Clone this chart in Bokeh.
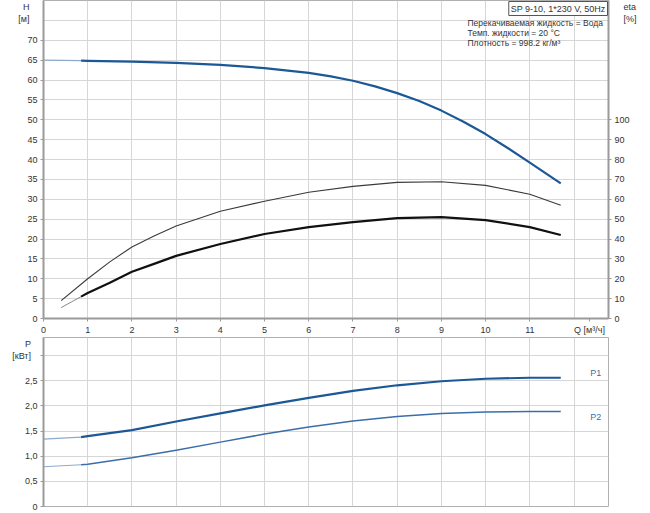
from bokeh.plotting import figure
from bokeh.layouts import column
from bokeh.models import Range1d, LinearAxis, FixedTicker, Label, CustomJSTickFormatter
from bokeh.embed import file_html
from bokeh.resources import INLINE

# ---- data ----
q_start = [0.0, 0.85]
h_start = [65.0, 64.85]
q_h = [0.85, 1, 2, 3, 4, 5, 6, 6.5, 7, 7.5, 8, 8.5, 9, 9.5, 10, 10.5, 11, 11.7]
h_vals = [64.85, 64.8, 64.6, 64.3, 63.8, 63.0, 61.8, 60.9, 59.8, 58.4, 56.7, 54.7, 52.3, 49.5, 46.4, 42.9, 39.2, 34.0]

q_eta_tot = [0.4, 1, 1.5, 2, 2.5, 3, 4, 5, 6, 7, 8, 9, 10, 11, 11.7]
eta_tot = [9.0, 20.0, 28.5, 36.0, 41.5, 46.5, 54.0, 59.0, 63.5, 66.5, 68.5, 68.8, 67.0, 62.5, 57.0]

q_eta_start = [0.4, 0.85]
eta_start = [5.5, 11.0]
q_eta = [0.85, 1, 1.5, 2, 2.5, 3, 4, 5, 6, 7, 8, 9, 10, 11, 11.7]
eta_vals = [11.0, 12.8, 18.0, 23.5, 27.5, 31.5, 37.5, 42.5, 46.0, 48.5, 50.5, 51.0, 49.5, 46.0, 42.0]

q_p_start = [0.0, 0.85]
p1_start = [1.34, 1.38]
p2_start = [0.79, 0.83]
q_p = [0.85, 1, 2, 3, 4, 5, 6, 7, 8, 9, 10, 11, 11.7]
p1_vals = [1.38, 1.40, 1.52, 1.69, 1.85, 2.01, 2.16, 2.30, 2.41, 2.49, 2.54, 2.56, 2.56]
p2_vals = [0.83, 0.84, 0.97, 1.12, 1.28, 1.44, 1.58, 1.70, 1.79, 1.85, 1.88, 1.89, 1.89]

q_ticks = list(range(0, 12)) + [12.35]
q_grid = list(range(0, 13))
h_ticks = list(range(0, 75, 5))
h_grid = list(range(0, 85, 5))
eta_ticks = list(range(0, 110, 10))
p_ticks = [0, 0.5, 1.0, 1.5, 2.0, 2.5, 3.0]

title_text = "SP 9-10, 1*230 V, 50Hz"
info_lines = ["Перекачиваемая жидкость = Вода", "Темп. жидкости = 20 °C", "Плотность = 998.2 кг/м³"]
q_label = "Q [м³/ч]"
h_label = "H\n[м]"
eta_label = "eta\n[%]"
p_label = "P\n[кВт]"

FONT = "Liberation Sans"
TXT = "#333333"
AXC = "#9a9a9a"
GRIDC = "#d6d6d6"
BLUE = "#1d5896"
BLUE2 = "#3b6ea8"
LIGHT = "#8eaacb"

XMAX = 12.78


def style_axis(ax, label=None, standoff=0):
    ax.axis_line_color = AXC
    ax.axis_line_width = 2
    ax.major_tick_line_color = AXC
    ax.major_tick_out = 3
    ax.major_tick_in = 0
    ax.minor_tick_line_color = None
    ax.major_label_text_font = FONT
    ax.major_label_text_font_size = "9px"
    ax.major_label_text_color = TXT
    ax.major_label_standoff = 3
    if label is not None:
        # leading blank lines push the two-line label below the frame top
        ax.axis_label = "\n\n" + label
        ax.axis_label_orientation = "horizontal"
        ax.axis_label_align = "end"
        ax.axis_label_standoff = standoff
        ax.axis_label_text_font = FONT
        ax.axis_label_text_font_size = "9px"
        ax.axis_label_text_font_style = "normal"
        ax.axis_label_text_color = TXT
        ax.axis_label_text_align = "center"


def lab(p, x, y, text, align="center", baseline="middle", color=TXT, size="9px"):
    l = Label(x=x, y=y, text=text, text_align=align, text_baseline=baseline,
              text_color=color, text_font=FONT, text_font_size=size)
    p.add_layout(l)
    return l


# ---------------- top figure ----------------
p = figure(width=648, height=337, x_range=Range1d(0, XMAX), y_range=Range1d(0, 80),
           output_backend="svg", toolbar_location=None,
           min_border_left=43, min_border_right=40, min_border_top=0, min_border_bottom=0)
p.extra_y_ranges = {"eta": Range1d(0, 160)}
p.outline_line_color = "#b0b0b0"

p.xaxis.ticker = FixedTicker(ticks=q_ticks)
p.xaxis.formatter = CustomJSTickFormatter(args=dict(ql=q_label), code="""
if (tick > 12) { return ql; }
return tick.toFixed(0);
""")
p.yaxis.ticker = FixedTicker(ticks=h_ticks)
style_axis(p.xaxis[0])
style_axis(p.yaxis[0], h_label, -5)

eta_axis = LinearAxis(y_range_name="eta", ticker=FixedTicker(ticks=eta_ticks))
style_axis(eta_axis, eta_label, -9)
p.add_layout(eta_axis, "right")

p.xgrid.ticker = FixedTicker(ticks=q_grid)
p.ygrid.ticker = FixedTicker(ticks=h_grid)
p.xgrid.grid_line_color = GRIDC
p.ygrid.grid_line_color = GRIDC

# H curve
p.line(q_start, h_start, line_color=LIGHT, line_width=1.2)
p.line(q_h, h_vals, line_color=BLUE, line_width=2.2, line_join="round")
# eta curves
p.line(q_eta_tot, eta_tot, line_color="#3a3a3a", line_width=1.1, y_range_name="eta", line_join="round")
p.line(q_eta_start, eta_start, line_color="#8a8a8a", line_width=1, y_range_name="eta")
p.line(q_eta, eta_vals, line_color="#111111", line_width=2.2, y_range_name="eta", line_join="round")

# title box
tb = Label(x=XMAX, y=80, text=title_text, text_align="right", text_baseline="top",
           text_color=TXT, text_font=FONT, text_font_size="9px",
           border_line_color="#555555", border_line_width=1, background_fill_color="white",
           padding=2, x_offset=-1, y_offset=-1)
p.add_layout(tb)

for i, t in enumerate(info_lines):
    lab(p, 9.59, 74.3 - 2.5 * i, t, align="left", size="8.5px")

# ---------------- bottom figure ----------------
p2 = figure(width=648, height=173, x_range=p.x_range, y_range=Range1d(0, 3.36),
            output_backend="svg", toolbar_location=None,
            min_border_left=43, min_border_right=40, min_border_top=0, min_border_bottom=4)
p2.outline_line_color = "#b0b0b0"
p2.xaxis.visible = False
p2.yaxis.ticker = FixedTicker(ticks=p_ticks)
p2.yaxis.formatter = CustomJSTickFormatter(code="""
if (tick == 0) { return '0'; }
if (tick >= 3) { return ''; }
return tick.toFixed(1).replace('.', ',');
""")
style_axis(p2.yaxis[0], p_label, -9)
p2.xgrid.ticker = FixedTicker(ticks=q_grid)
p2.ygrid.ticker = FixedTicker(ticks=p_ticks)
p2.xgrid.grid_line_color = GRIDC
p2.ygrid.grid_line_color = GRIDC

p2.line(q_p_start, p1_start, line_color=LIGHT, line_width=1.2)
p2.line(q_p, p1_vals, line_color=BLUE, line_width=2.2, line_join="round")
p2.line(q_p_start, p2_start, line_color=LIGHT, line_width=1.2)
p2.line(q_p, p2_vals, line_color=BLUE2, line_width=1.5, line_join="round")

lab(p2, 12.49, 2.66, "P1", color=BLUE2)
lab(p2, 12.49, 1.78, "P2", color=BLUE2)

layout = column(p, p2, spacing=0)
open("out.html", "w").write(file_html(layout, INLINE))
